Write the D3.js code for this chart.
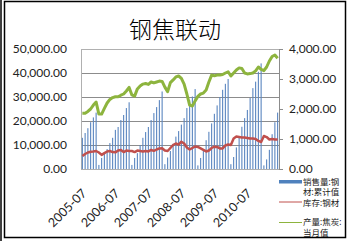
<!DOCTYPE html>
<html>
<head>
<meta charset="utf-8">
<script src="https://cdn.jsdelivr.net/npm/d3@7"></script>
<style>
  body { margin: 0; background: #fff; }
  svg { display: block; }
</style>
</head>
<body>
<script>
// data: months 2005-07 .. 2011-06
var months = [];
for (var yr = 2005; yr <= 2011; yr++) {
    for (var m = 1; m <= 12; m++) {
        if (yr == 2005 && m < 7) continue;
        if (yr == 2011 && m > 6) continue;
        months.push(yr + "-" + (m < 10 ? "0" + m : m));
    }
}

var tickLabels = ["2005-07", "2006-07", "2007-07", "2008-07", "2009-07", "2010-07"];

// 销售量:钢材:累计值 (left axis)
var salesCum = [
    13000, 15000, 17000, 19500, 21500, 23500,
    1700, 4600, 6600, 8300, 10800, 13000, 16300, 17500, 20400, 22500, 25400, 27800,
    1700, 4600, 6600, 10000, 13000, 15400, 17500, 20400, 23300, 25800, 28700, 32300,
    2000, 4800, 7500, 10500, 13500, 15800, 18500, 21200, 25400, 28700, 30200, 33300,
    1500, 4600, 8000, 12000, 15500, 19000, 23000, 26500, 30000, 33000, 35500, 37500,
    2000, 5000, 9000, 13300, 17600, 21200, 24600, 29600, 33700, 36400, 40500, 44000,
    1500, 4000, 8000, 14500, 19500, 23500
];

// 库存:钢材 (right axis)
var inventory = [
    430, 500, 550, 575, 585, 600,
    550, 470, 530, 585, 600, 565, 555, 615, 635, 565, 615, 600,
    600, 565, 615, 600, 585, 600, 585, 635, 605, 650, 685, 690,
    615, 600, 700, 800, 850, 815, 910, 850, 715, 650, 700, 750,
    735, 685, 635, 585, 615, 700, 745, 735, 685, 685, 785, 815,
    800, 1015, 1080, 1065, 1050, 1050, 1035, 1015, 1015, 1000, 935, 900,
    1100, 1065, 985, 1000, 985, 985
];

// 产量:焦炭:当月值 (right axis)
var cokeOutput = [
    1860, 1860, 1920, 2000, 2130, 2230,
    1830, 1830, 2020, 2200, 2320, 2380, 2410, 2410, 2460, 2500, 2600, 2720,
    2470, 2430, 2670, 2770, 2830, 2850, 2820, 2900, 2870, 2900, 2930, 2920,
    2730, 2580, 2880, 2970, 3070, 3100, 3020, 2830, 2500, 2130, 2100, 2270,
    2420, 2500, 2530, 2630, 2900, 3130, 3110, 3130, 3130, 3150, 3200, 3240,
    3100, 3200, 3300, 3370, 3350, 3200, 3170, 3180, 3200, 3270, 3400, 3320,
    3280, 3400, 3600, 3750, 3800, 3690
];

var leftTicks = [0, 10000, 20000, 30000, 40000, 50000];
var rightTicks = [0, 1000, 2000, 3000, 4000];

var margin = { top: 49, left: 81 },
    width = 198,
    height = 120;

var svg = d3.select("body").append("svg")
    .attr("width", 349)
    .attr("height", 241);

// outer frame
svg.append("rect")
    .attr("x", 4.5).attr("y", 1.5)
    .attr("width", 341).attr("height", 236)
    .attr("fill", "none").attr("stroke", "#000").attr("stroke-width", 1.5);
svg.append("line")
    .attr("x1", 1).attr("x2", 1).attr("y1", 0).attr("y2", 241)
    .attr("stroke", "#000").attr("stroke-width", 1.5);

// title
svg.append("text")
    .attr("x", 175).attr("y", 38)
    .attr("text-anchor", "middle")
    .attr("font-family", "Noto Sans CJK SC")
    .attr("font-weight", "300")
    .attr("font-size", "23px")
    .text("钢焦联动");

var g = svg.append("g")
    .attr("transform", "translate(" + margin.left + "," + margin.top + ")");

var x = d3.scaleBand().domain(months).range([0, width]).padding(0);
var yL = d3.scaleLinear().domain([0, 50000]).range([height, 0]);
var yR = d3.scaleLinear().domain([0, 4000]).range([height, 0]);

// grid lines
g.selectAll(".grid")
    .data(leftTicks)
    .enter().append("line")
    .attr("x1", 0).attr("x2", width)
    .attr("y1", function(d) { return Math.round(yL(d)) + 0.5; })
    .attr("y2", function(d) { return Math.round(yL(d)) + 0.5; })
    .attr("stroke", "#8c8c8c").attr("stroke-width", 1);

// plot border
g.append("rect")
    .attr("x", 0.5).attr("y", 0.5)
    .attr("width", width).attr("height", height)
    .attr("fill", "none").attr("stroke", "#b0b0b0");

// bars
g.selectAll(".bar")
    .data(salesCum)
    .enter().append("rect")
    .attr("class", "bar")
    .attr("x", function(d, i) { return x(months[i]) + x.bandwidth() * 0.3; })
    .attr("width", x.bandwidth() * 0.4)
    .attr("y", function(d) { return yL(d); })
    .attr("height", function(d) { return height - yL(d); })
    .attr("fill", "#5b86c0");

// lines
var lineR = function(arr) {
    return d3.line()
        .x(function(d, i) { return x(months[i]) + x.bandwidth() / 2; })
        .y(function(d) { return yR(d); })(arr);
};

g.append("path")
    .attr("d", lineR(inventory))
    .attr("fill", "none").attr("stroke", "#c0504d").attr("stroke-width", 2.5)
    .attr("stroke-linejoin", "round");

g.append("path")
    .attr("d", lineR(cokeOutput))
    .attr("fill", "none").attr("stroke", "#8db43e").attr("stroke-width", 3)
    .attr("stroke-linejoin", "round");

// left axis labels
g.selectAll(".ltick")
    .data(leftTicks)
    .enter().append("text")
    .attr("x", -14)
    .attr("y", function(d) { return yL(d); })
    .attr("dy", "0.35em")
    .attr("text-anchor", "end")
    .attr("font-family", "Lato")
    .attr("font-size", "12px")
    .attr("fill", "#222")
    .text(function(d) { return d3.format(",.2f")(d); });

// right axis
g.append("line")
    .attr("x1", width + 0.5).attr("x2", width + 0.5)
    .attr("y1", 0).attr("y2", height)
    .attr("stroke", "#8c8c8c");
g.selectAll(".rtickmark")
    .data(rightTicks)
    .enter().append("line")
    .attr("x1", width).attr("x2", width + 4)
    .attr("y1", function(d) { return Math.round(yR(d)) + 0.5; })
    .attr("y2", function(d) { return Math.round(yR(d)) + 0.5; })
    .attr("stroke", "#8c8c8c");
g.selectAll(".rtick")
    .data(rightTicks)
    .enter().append("text")
    .attr("x", width + 10)
    .attr("y", function(d) { return yR(d); })
    .attr("dy", "0.35em")
    .attr("font-family", "Lato")
    .attr("font-size", "12px")
    .attr("fill", "#222")
    .text(function(d) { return d3.format(",.2f")(d); });

// x labels
g.selectAll(".xtick")
    .data(tickLabels)
    .enter().append("text")
    .attr("transform", function(d) {
        return "translate(" + (x(d) + x.bandwidth() / 2 + 5) + "," + (height + 25) + ") rotate(-45)";
    })
    .attr("text-anchor", "end")
    .attr("font-family", "Lato")
    .attr("font-size", "12.5px")
    .attr("fill", "#222")
    .text(function(d) { return d; });

// legend
var lg = svg.append("g").attr("font-family", "Lato, Noto Sans CJK SC").attr("font-size", "8.5px").attr("fill", "#222");
lg.append("rect").attr("x", 279).attr("y", 180).attr("width", 23).attr("height", 3.5).attr("fill", "#4f81bd");
var t1 = lg.append("text").attr("x", 303).attr("y", 184.5);
t1.append("tspan").attr("x", 303).text("销售量:钢");
t1.append("tspan").attr("x", 303).attr("dy", 10.5).text("材:累计值");
lg.append("line").attr("x1", 279).attr("x2", 302).attr("y1", 202).attr("y2", 202)
    .attr("stroke", "#c0504d").attr("stroke-width", 1);
lg.append("text").attr("x", 303).attr("y", 205.5).text("库存:钢材");
lg.append("line").attr("x1", 279).attr("x2", 302).attr("y1", 222.5).attr("y2", 222.5)
    .attr("stroke", "#8db43e").attr("stroke-width", 1);
var t3 = lg.append("text").attr("x", 303).attr("y", 225);
t3.append("tspan").attr("x", 303).text("产量:焦炭:");
t3.append("tspan").attr("x", 303).attr("dy", 10.5).text("当月值");
</script>
</body>
</html>
